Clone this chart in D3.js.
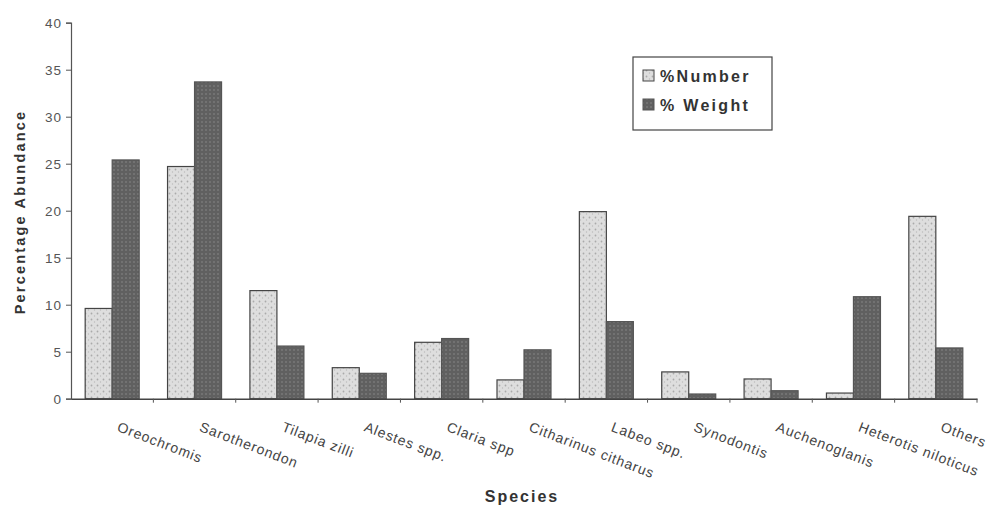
<!DOCTYPE html>
<html><head><meta charset="utf-8">
<script src="https://cdn.jsdelivr.net/npm/d3@7"></script>
<style>body{margin:0;background:#fff;}svg{display:block;}</style>
</head><body>
<svg id="c" width="991" height="508"></svg>
<script>
const categories = ["Oreochromis","Sarotherondon","Tilapia zilli","Alestes spp.","Claria spp","Citharinus citharus","Labeo spp.","Synodontis","Auchenoglanis","Heterotis niloticus","Others"];
const pctNumber = [9.6, 24.7, 11.5, 3.3, 6.0, 2.0, 19.9, 2.85, 2.1, 0.6, 19.4];
const pctWeight = [25.4, 33.7, 5.6, 2.7, 6.4, 5.2, 8.2, 0.5, 0.85, 10.85, 5.4];
const seriesNames = ["%Number", "% Weight"];
const yTicks = [0,5,10,15,20,25,30,35,40];

const svg = d3.select("#c");
const m = {l:71, r:14, t:22.7, b:109.3};
const W = 991, H = 508;
const FONT = "Liberation Sans, Arial, sans-serif";
const x = d3.scaleBand().domain(categories).range([m.l, W - m.r]).paddingInner(0).paddingOuter(0);
const y = d3.scaleLinear().domain([0,40]).range([H - m.b, m.t]);

const defs = svg.append("defs");
const p1 = defs.append("pattern").attr("id","pNum").attr("patternUnits","userSpaceOnUse").attr("width",6).attr("height",6);
p1.append("rect").attr("width",6).attr("height",6).attr("fill","#dedede");
p1.append("circle").attr("cx",1.5).attr("cy",1.5).attr("r",0.9).attr("fill","#aaaaaa");
p1.append("circle").attr("cx",4.5).attr("cy",4).attr("r",0.7).attr("fill","#bbbbbb");
const p2 = defs.append("pattern").attr("id","pWt").attr("patternUnits","userSpaceOnUse").attr("width",4).attr("height",4);
p2.append("rect").attr("width",4).attr("height",4).attr("fill","#606060");
p2.append("circle").attr("cx",2).attr("cy",2).attr("r",0.8).attr("fill","#8a8a8a");

const bw = 27;
const inner = d3.scaleBand().domain([0,1]).range([0, 2*bw]);
const off = (x.bandwidth() - 2*bw)/2;
const series = [pctNumber, pctWeight];
const fills = ["url(#pNum)","url(#pWt)"];
const strokes = ["#444","#555"];

series.forEach((vals, si) => {
  svg.append("g").selectAll("rect").data(vals).join("rect")
    .attr("x", (d,i) => x(categories[i]) + off + inner(si))
    .attr("y", d => y(d))
    .attr("width", inner.bandwidth())
    .attr("height", d => y(0) - y(d))
    .attr("fill", fills[si])
    .attr("stroke", strokes[si])
    .attr("stroke-width", 1.2);
});

// y axis
const ya = svg.append("g").attr("transform",`translate(${m.l},0)`)
  .call(d3.axisLeft(y).tickValues(yTicks).tickSize(5).tickPadding(4));
ya.select(".domain").attr("stroke","#555").attr("stroke-width",1.2);
ya.selectAll(".tick line").attr("stroke","#555");
ya.selectAll(".tick text").attr("fill","#555").style("font-family",FONT).style("font-size","13.5px").style("letter-spacing","1px");

// x axis
const xa = svg.append("g").attr("transform",`translate(0,${y(0)})`)
  .call(d3.axisBottom(x).tickSize(0).tickFormat(""));
xa.select(".domain").attr("stroke","#444").attr("stroke-width",1.5);
const bounds = categories.map(c => x(c) + x.bandwidth());
svg.append("g").selectAll("line").data(bounds).join("line")
  .attr("x1", d=>d).attr("x2", d=>d).attr("y1", y(0)).attr("y2", y(0)+4)
  .attr("stroke","#555");

// x labels
svg.append("g").selectAll("text").data(categories).join("text")
  .attr("transform", d => `translate(${x(d) + x.bandwidth()/2 + 4},${y(0)+32}) rotate(21)`)
  .attr("text-anchor","start")
  .attr("fill","#444")
  .style("font-family",FONT)
  .style("font-size","14px")
  .style("letter-spacing","0.9px")
  .text(d => d);

// axis titles
svg.append("text").attr("transform",`translate(25,212) rotate(-90)`)
  .attr("text-anchor","middle").attr("fill","#333")
  .style("font-family",FONT).style("font-size","14.5px").style("font-weight","bold")
  .style("letter-spacing","2.2px")
  .text("Percentage Abundance");
svg.append("text").attr("x",522).attr("y",502)
  .attr("text-anchor","middle").attr("fill","#333")
  .style("font-family",FONT).style("font-size","16px").style("font-weight","bold")
  .style("letter-spacing","2px")
  .text("Species");

// legend
const lg = svg.append("g").attr("transform","translate(633,57)");
lg.append("rect").attr("width",139).attr("height",73).attr("fill","#fff").attr("stroke","#444").attr("stroke-width",1.2);
seriesNames.forEach((n,i) => {
  const yy = 19 + i*29;
  lg.append("rect").attr("x",10).attr("y",yy-6).attr("width",11).attr("height",11)
    .attr("fill",fills[i]).attr("stroke",strokes[i]);
  lg.append("text").attr("x",27).attr("y",yy+5.5).attr("fill","#333")
    .style("font-family",FONT).style("font-size","16px").style("font-weight","bold")
    .style("letter-spacing","2.3px")
    .text(n);
});
</script>
</body></html>
